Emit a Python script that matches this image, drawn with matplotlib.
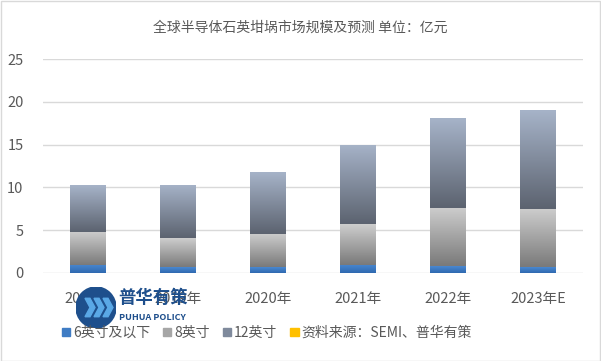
import numpy as np
import matplotlib
matplotlib.use('Agg')
import matplotlib.pyplot as plt
from matplotlib.patches import Rectangle, Circle, Polygon
from matplotlib.colors import LinearSegmentedColormap

plt.rcParams['font.family'] = ['Noto Sans CJK SC', 'DejaVu Sans']

years = ['2018年', '2019年', '2020年', '2021年', '2022年', '2023年E']
inch6 = [0.94, 0.70, 0.70, 0.94, 0.82, 0.70]
inch8 = [3.87, 3.37, 3.88, 4.78, 6.81, 6.81]
inch12 = [5.49, 6.23, 7.24, 9.28, 10.53, 11.59]
series_names = ['6英寸及以下', '8英寸', '12英寸']
source_text = '资料来源：SEMI、普华有策'

fig = plt.figure(figsize=(6.01, 3.61), dpi=100)
ax = fig.add_axes([0.0715, 0.2446, 0.8985, 0.5911])

x = np.arange(len(years))
w = 0.4
b6 = ax.bar(x, inch6, w, color='#3f7cc4')
b8 = ax.bar(x, inch8, w, bottom=inch6, color='#a6a6a6')
bottom12 = [a + b for a, b in zip(inch6, inch8)]
b12 = ax.bar(x, inch12, w, bottom=bottom12, color='#7f8a9c')

# gradient fills (top colour -> bottom colour)
grads = [('#4a88d0', '#2f69b0'), ('#cdcdcd', '#7a7a7a'), ('#a6b3c8', '#5c6370')]
for bars, (ctop, cbot) in zip([b6, b8, b12], grads):
    cmap = LinearSegmentedColormap.from_list('g', [cbot, ctop])
    grad = np.linspace(0, 1, 100).reshape(-1, 1)
    for p in bars:
        x0, y0 = p.get_x(), p.get_y()
        im = ax.imshow(grad, cmap=cmap, origin='lower', aspect='auto',
                       extent=[x0, x0 + p.get_width(), y0, y0 + p.get_height()], zorder=2)
        im.set_clip_path(p)

ax.set_xlim(-0.5, len(years) - 0.5)
ax.set_ylim(0, 25)
ax.set_yticks(range(0, 26, 5))
ax.set_xticks(x)
ax.set_xticklabels(years)
ax.grid(axis='y', color='#d9d9d9', linewidth=1)
ax.set_axisbelow(True)
for s in ax.spines.values():
    s.set_visible(False)
ax.tick_params(length=0, colors='#595959', labelsize=10.5)
ax.tick_params(axis='x', pad=14)
ax.tick_params(axis='y', pad=14)

fig.text(0.5, 0.922, '全球半导体石英坩埚市场规模及预测 单位：亿元', ha='center', va='center',
         fontsize=10, color='#595959')

# legend
handles = [Rectangle((0, 0), 1, 1, color=c) for c in ['#3f7cc4', '#a6a6a6', '#7f8a9c', '#ffc000']]
fig.legend(handles, series_names + [source_text], loc='center', bbox_to_anchor=(0.444, 0.078),
           ncol=4, frameon=False, fontsize=10, handlelength=0.6, handleheight=0.6,
           handletextpad=0.2, columnspacing=0.95, labelcolor='#595959')

# watermark logo
lax = fig.add_axes([76 / 601, 1 - 328 / 361, 40 / 601, 41 / 361])
lax.set_xlim(-1, 1)
lax.set_ylim(-1, 1)
lax.axis('off')
lax.add_patch(Circle((0, 0), 1, color='#1e4f8c'))
for dx in (-0.55, -0.1, 0.35):
    lax.add_patch(Polygon([(dx, 0.45), (dx + 0.25, 0.45), (dx + 0.5, 0), (dx + 0.25, -0.45),
                           (dx, -0.45), (dx + 0.25, 0)], closed=True, color='#5aa8e6'))
fig.text(118 / 601, 1 - 298 / 361, '普华有策', ha='left', va='center', fontsize=12.5,
         color='#1e4f8c', fontweight='bold', zorder=6)
fig.text(119 / 601, 1 - 318 / 361, 'PUHUA POLICY', ha='left', va='center', fontsize=6.5,
         color='#1e4f8c', fontweight='bold', zorder=6)

# outer border
fig.patches.append(Rectangle((0.001, 0.001), 0.997, 0.996, transform=fig.transFigure,
                             fill=False, edgecolor='#d9d9d9', linewidth=1, figure=fig))

fig.savefig('out.png', dpi=100)
